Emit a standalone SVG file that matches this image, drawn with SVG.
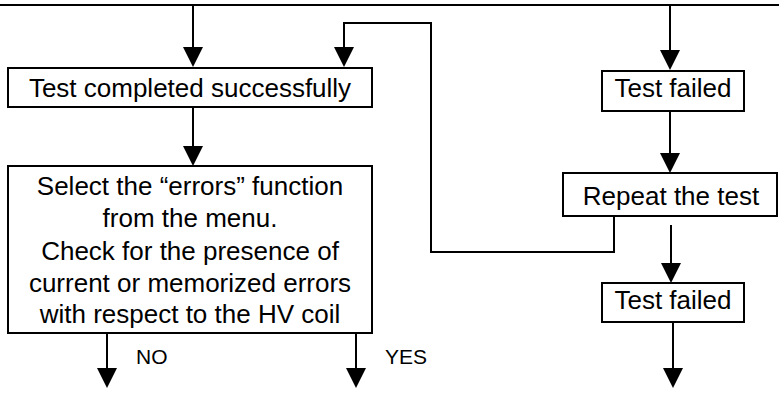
<svg xmlns="http://www.w3.org/2000/svg" width="779" height="394" viewBox="0 0 779 394">
  <style>
    .box { fill: #fff; stroke: #000; stroke-width: 2; }
    .txt { font-family: "Liberation Sans", Arial, sans-serif; font-size: 26px; fill: #000; text-anchor: middle; }
    .lbl { font-family: "Liberation Sans", Arial, sans-serif; font-size: 21px; fill: #000; }
    .wire { fill: none; stroke: #000; stroke-width: 2; }
  </style>
  <defs>
    <marker id="arrow" markerUnits="userSpaceOnUse" markerWidth="20" markerHeight="20" refX="16" refY="10" orient="auto">
      <path d="M0,0 L20,10 L0,20 Z" fill="#000"/>
    </marker>
  </defs>
  <rect width="779" height="394" fill="#fff"/>

  <g id="connectors">
    <line class="wire" x1="0" y1="5" x2="779" y2="5"/>
    <line class="wire" x1="193" y1="5" x2="193" y2="63" marker-end="url(#arrow)"/>
    <path class="wire" d="M614,216 V252 H431 V23 H344 V63" marker-end="url(#arrow)"/>
    <line class="wire" x1="670" y1="5" x2="670" y2="66" marker-end="url(#arrow)"/>
    <line class="wire" x1="670" y1="111" x2="670" y2="169" marker-end="url(#arrow)"/>
    <line class="wire" x1="671" y1="225" x2="671" y2="279" marker-end="url(#arrow)"/>
    <line class="wire" x1="673" y1="322" x2="673" y2="384" marker-end="url(#arrow)"/>
    <line class="wire" x1="193" y1="107" x2="193" y2="162" marker-end="url(#arrow)"/>
    <line class="wire" x1="107" y1="333" x2="107" y2="384" marker-end="url(#arrow)"/>
    <line class="wire" x1="356" y1="333" x2="356" y2="384" marker-end="url(#arrow)"/>
    <text class="lbl" x="136" y="364">NO</text>
    <text class="lbl" x="385" y="364">YES</text>
  </g>

  <g id="test-completed">
    <rect class="box" x="8" y="68" width="364" height="39"/>
    <text class="txt" x="190" y="97">Test completed successfully</text>
  </g>

  <g id="select-errors">
    <rect class="box" x="8" y="166" width="364" height="167"/>
    <text class="txt" x="190" y="195">Select the “errors” function</text>
    <text class="txt" x="190" y="227">from the menu.</text>
    <text class="txt" x="190" y="260">Check for the presence of</text>
    <text class="txt" x="190" y="292">current or memorized errors</text>
    <text class="txt" x="190" y="323">with respect to the HV coil</text>
  </g>

  <g id="test-failed-1">
    <rect class="box" x="602" y="71" width="142" height="40"/>
    <text class="txt" x="673" y="97">Test failed</text>
  </g>

  <g id="repeat-test">
    <rect class="box" x="563" y="173" width="214" height="43"/>
    <text class="txt" x="671" y="205">Repeat the test</text>
  </g>

  <g id="test-failed-2">
    <rect class="box" x="602" y="283" width="142" height="39"/>
    <text class="txt" x="673" y="309">Test failed</text>
  </g>
</svg>
